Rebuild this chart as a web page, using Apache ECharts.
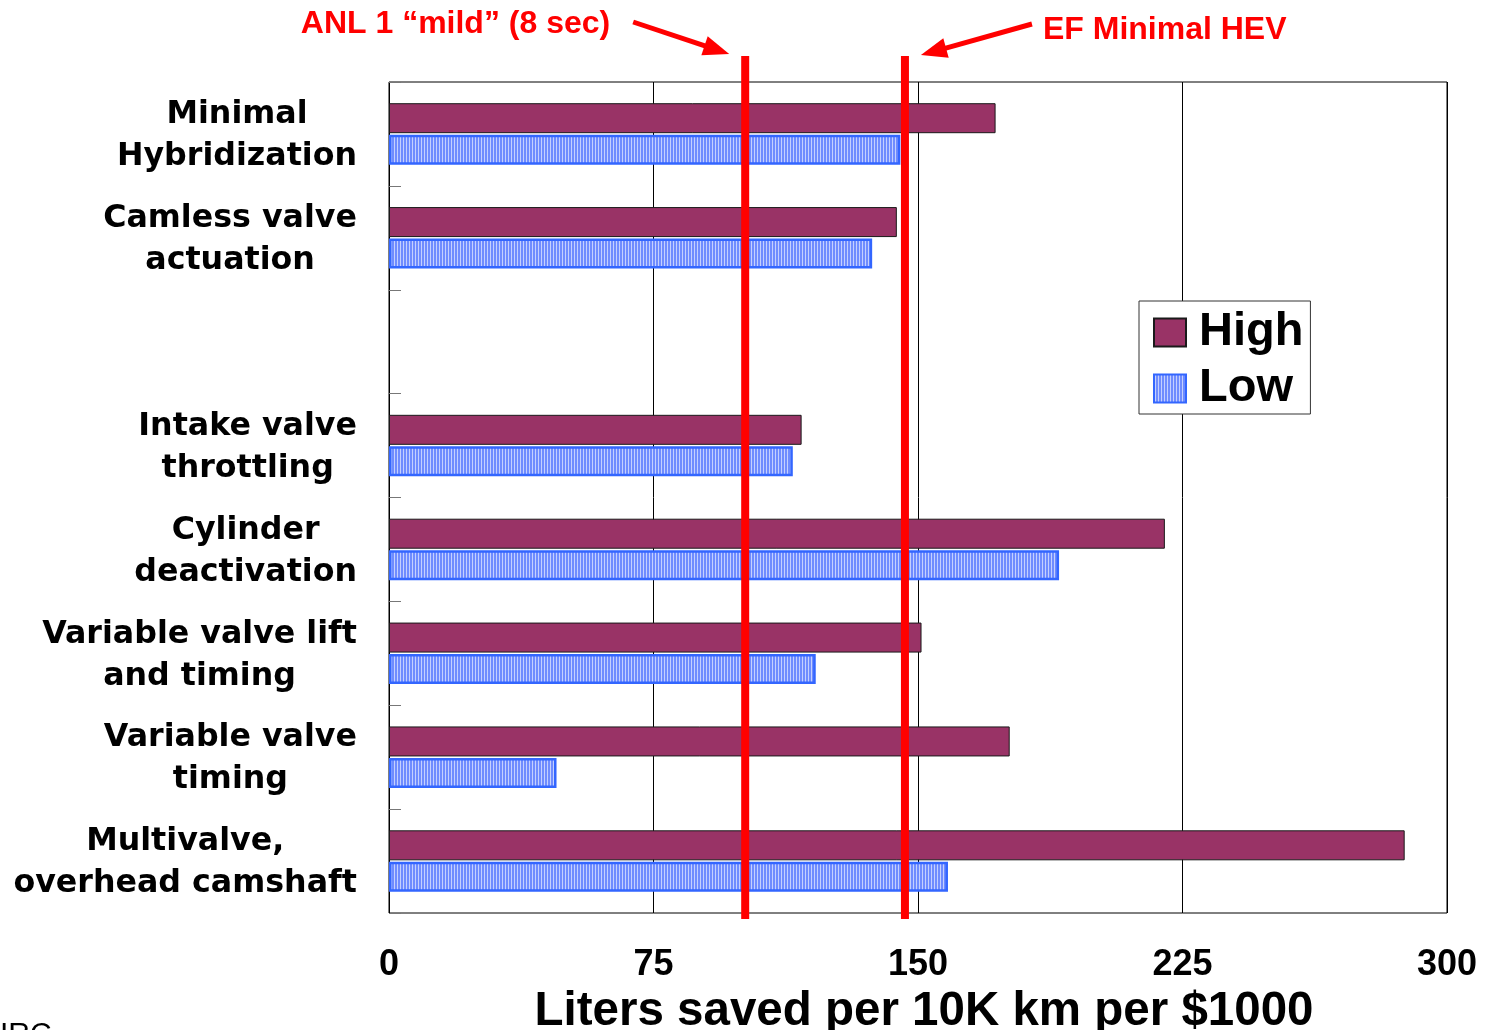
<!DOCTYPE html>
<html>
<head>
<meta charset="utf-8">
<script src="https://cdn.jsdelivr.net/npm/echarts@6/dist/echarts.min.js"></script>
<style>
  html, body { margin: 0; padding: 0; background: #fff; }
  #chart { width: 1488px; height: 1030px; }
</style>
</head>
<body>
<div id="chart"></div>
<script>
// Fuel-saving technologies: litres saved per 10K km per $1000 spent
const categories = [
  'Minimal\nHybridization',
  'Camless valve\nactuation',
  '',
  'Intake valve\nthrottling',
  'Cylinder\ndeactivation',
  'Variable valve lift\nand timing',
  'Variable valve\ntiming',
  'Multivalve,\noverhead camshaft'
];
const highValues = [172, 144, null, 117, 220, 151, 176, 288];
const lowValues = [145, 137, null, 114.5, 190, 121, 47.5, 158.5];
const xTicks = [0, 75, 150, 225, 300];
const referenceLines = [101, 146.3];
const referenceLabels = ['ANL 1 “mild” (8 sec)', 'EF Minimal HEV'];
const footerText = 'IRC';

// Vertical hatch used for the "Low" bars
function stripePattern() {
  const c = document.createElement('canvas');
  c.width = 3; c.height = 4;
  const g = c.getContext('2d');
  g.fillStyle = '#6f8cff';
  g.fillRect(0, 0, 3, 4);
  g.fillStyle = '#c4d0ff';
  g.fillRect(1, 0, 1, 4);
  return c;
}

const chart = echarts.init(document.getElementById('chart'), null, { renderer: 'canvas' });
const labelFont = 'DejaVu Sans';
const numFont = 'Liberation Sans';

const refSeries = referenceLines.map((v, i) => ({
  name: 'ref' + i,
  type: 'line',
  xAxisIndex: 1,
  yAxisIndex: 1,
  data: [[v, 0], [v, 1]],
  showSymbol: false,
  symbol: 'none',
  silent: true,
  animation: false,
  z: 10,
  lineStyle: { color: '#ff0000', width: 8, cap: 'butt' }
}));

chart.setOption({
  animation: false,
  backgroundColor: '#fff',
  grid: [
    { left: 389, top: 82, width: 1058, height: 831, show: true, borderColor: '#000', borderWidth: 1, backgroundColor: 'transparent', containLabel: false, outerBoundsMode: 'none' },
    { left: 389, top: 56, width: 1058, height: 863, show: false, containLabel: false, outerBoundsMode: 'none' }
  ],
  legend: {
    data: ['High', 'Low'],
    orient: 'vertical',
    left: 1139,
    top: 301,
    itemWidth: 32,
    itemHeight: 28,
    itemGap: 9,
    padding: [8, 7, 2, 14],
    backgroundColor: '#fff',
    borderColor: '#333',
    borderWidth: 1,
    borderRadius: 0,
    icon: 'rect',
    textStyle: { fontFamily: numFont, fontSize: 47, fontWeight: 'bold', color: '#000', padding: [0, 0, 0, 8] }
  },
  xAxis: [
    {
      type: 'value',
      min: xTicks[0],
      max: xTicks[xTicks.length - 1],
      interval: xTicks[1] - xTicks[0],
      name: 'Liters saved per 10K km per $1000',
      nameLocation: 'middle',
      nameGap: 70,
      nameTextStyle: { fontFamily: numFont, fontSize: 47.5, fontWeight: 'bold', color: '#000', padding: [0, 0, 0, 12] },
      axisLine: { show: false },
      axisTick: { show: false },
      axisLabel: { fontFamily: numFont, fontSize: 36, fontWeight: 'bold', color: '#000', margin: 34, showMinLabel: true, showMaxLabel: true },
      splitLine: { show: true, lineStyle: { color: '#000', width: 1 } }
    },
    { type: 'value', gridIndex: 1, min: 0, max: 300, show: false }
  ],
  yAxis: [
    {
      type: 'category',
      data: categories,
      inverse: true,
      axisLine: { show: false },
      axisTick: { show: true, inside: true, length: 12, lineStyle: { color: '#777', width: 1 } },
      splitLine: { show: false },
      axisLabel: {
        margin: 32,
        align: 'right',
        interval: 0,
        padding: [4, 0, 0, 0],
        formatter: v => v ? v.split('\n').map(s => '{c|' + s + '}').join('\n') : '',
        rich: {
          c: { align: 'center', fontFamily: labelFont, fontSize: 31.7, fontWeight: 'bold', color: '#000', lineHeight: 42 }
        }
      }
    },
    { type: 'value', gridIndex: 1, min: 0, max: 1, show: false }
  ],
  series: [
    {
      name: 'High',
      type: 'bar',
      data: highValues,
      barWidth: 30,
      barGap: '5%',
      itemStyle: { color: '#993366', borderColor: '#1a1a1a', borderWidth: 1 }
    },
    {
      name: 'Low',
      type: 'bar',
      data: lowValues,
      barWidth: 30,
      barGap: '5%',
      itemStyle: { color: { image: stripePattern(), repeat: 'repeat' }, borderColor: '#3366ff', borderWidth: 2.5 }
    }
  ].concat(refSeries)
});

// Callout labels and arrows pointing at the two reference lines
function arrow(tail, tip) {
  const dx = tip[0] - tail[0], dy = tip[1] - tail[1];
  const len = Math.sqrt(dx * dx + dy * dy);
  const ux = dx / len, uy = dy / len;
  const headLen = 26, headHalf = 10;
  const bx = tip[0] - ux * headLen, by = tip[1] - uy * headLen;
  return [
    { type: 'line', shape: { x1: tail[0], y1: tail[1], x2: bx + ux * 2, y2: by + uy * 2 }, style: { stroke: '#ff0000', lineWidth: 5 }, z: 20 },
    { type: 'polygon', shape: { points: [tip, [bx - uy * headHalf, by + ux * headHalf], [bx + uy * headHalf, by - ux * headHalf]] }, style: { fill: '#ff0000' }, z: 20 }
  ];
}

const x0 = chart.convertToPixel({ xAxisIndex: 1 }, referenceLines[0]);
const x1 = chart.convertToPixel({ xAxisIndex: 1 }, referenceLines[1]);
const redFont = { fontFamily: numFont, fontSize: 32, fontWeight: 'bold', fill: '#ff0000' };

chart.setOption({
  graphic: [
    { type: 'text', x: x0 - 135, y: 24, style: Object.assign({ text: referenceLabels[0], textAlign: 'right', textVerticalAlign: 'middle' }, redFont), z: 20 },
    { type: 'text', x: x1 + 138, y: 30, style: Object.assign({ text: referenceLabels[1], textAlign: 'left', textVerticalAlign: 'middle' }, redFont), z: 20 },
    ...arrow([x0 - 112, 22], [x0 - 16, 54]),
    ...arrow([x1 + 127, 24], [x1 + 16, 55]),
    { type: 'text', x: 0, y: 1020, style: { text: footerText, fontFamily: numFont, fontSize: 30, fill: '#000', textVerticalAlign: 'top' } }
  ]
});
</script>
</body>
</html>
